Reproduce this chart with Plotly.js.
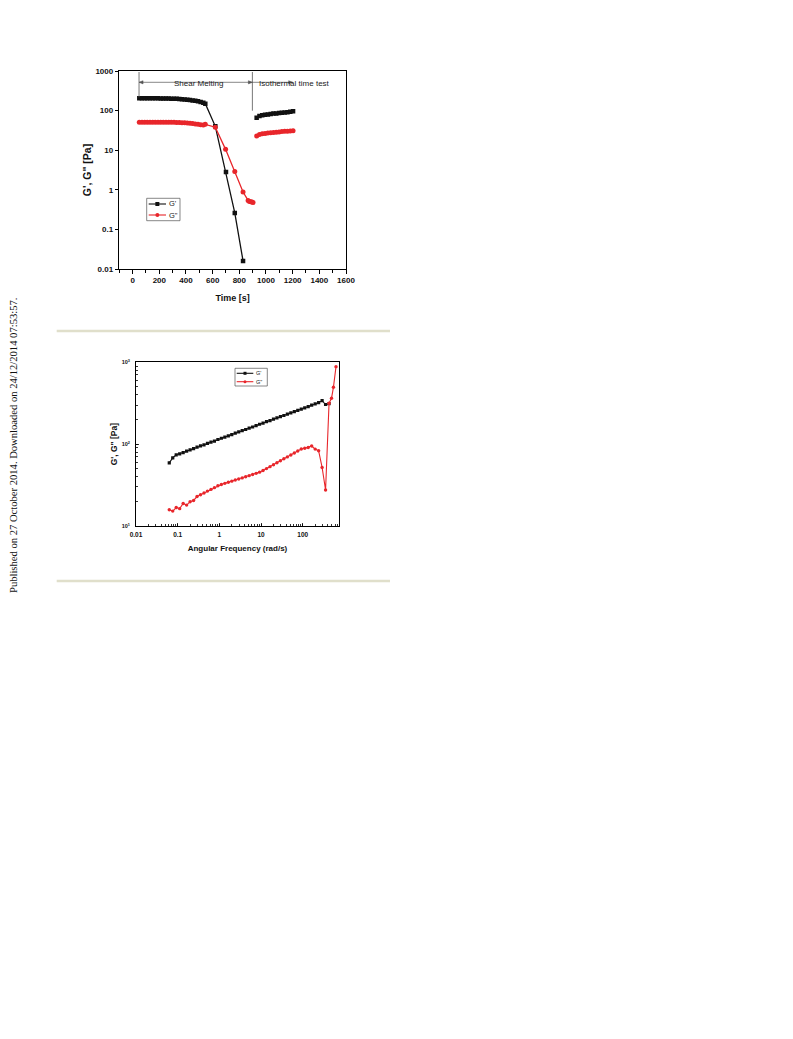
<!DOCTYPE html>
<html>
<head>
<meta charset="utf-8">
<script src="https://cdn.plot.ly/plotly-3.0.1.min.js"></script>
<style>
  html, body { margin: 0; padding: 0; background: #ffffff; }
  #chart { width: 793px; height: 1039px; }
</style>
</head>
<body>
<div id="chart"></div>
<script>
// ---------------- DATA ----------------
// Top chart: shear melting + isothermal time test
const tShearStorage = [50,70,90,110,130,150,170,190,210,230,250,270,290,310,330,350,370,390,410,430,450,470,490,510,530,545,620,700,766,828];
const gStorageShear = [205,205,205,205,205,204,204,204,203,203,202,201,200,199,198,196,194,191,188,185,181,177,172,166,158,150,40,2.8,0.26,0.016];
const tShearLoss = [50,70,90,110,130,150,170,190,210,230,250,270,290,310,330,350,370,390,410,430,450,470,490,510,530,545,620,697,766,828,866,876,886,895,903];
const gLossShear = [51,51,51,51,51,51,51,51,51,51,51,51,51,50.5,50,50,49.5,49,48.5,48,47,46,45,44,43,45,38,10.5,2.9,0.88,0.54,0.51,0.5,0.49,0.48];
const tIso = [930,951,972,993,1014,1035,1056,1077,1098,1119,1140,1161,1182,1203];
const gStorageIso = [66,73,76,78,80,82,84,85,87,88,90,91,93,96];
const gLossIso = [23,25,26,26.5,27,27.5,28,28.5,29,29.5,30,30,30.5,31];
const timeTicks = [0,200,400,600,800,1000,1200,1400,1600];
const modTicksTop = [0.01,0.1,1,10,100,1000];
const modTickTextTop = ['0.01','0.1','1','10','100','1000'];

// Bottom chart: frequency sweep
const omegaStorage = [0.0628,0.0761,0.0922,0.1117,0.1353,0.1639,0.1986,0.2406,0.2915,0.3531,0.4278,0.5183,0.628,0.761,0.922,1.117,1.353,1.639,1.986,2.406,2.915,3.531,4.278,5.183,6.28,7.61,9.22,11.17,13.53,16.39,19.86,24.06,29.15,35.31,42.78,51.83,62.8,76.1,92.2,111.7,135.3,163.9,198.6,240.6,291.5,353.1,427.8];
const gStorageFreq = [59,68,74,76,79,82,85,88,92,95,98,102,106,109,114,118,122,126,131,136,141,146,151,157,162,168,175,181,188,194,202,209,217,224,233,241,250,259,268,278,288,299,310,321,340,305,312];
const omegaLoss = [0.0628,0.0761,0.0922,0.1117,0.1353,0.1639,0.1986,0.2406,0.2915,0.3531,0.4278,0.5183,0.628,0.761,0.922,1.117,1.353,1.639,1.986,2.406,2.915,3.531,4.278,5.183,6.28,7.61,9.22,11.17,13.53,16.39,19.86,24.06,29.15,35.31,42.78,51.83,62.8,76.1,92.2,111.7,135.3,163.9,198.6,240.6,291.5,353.1,427.8,490,545,628];
const gLossFreq = [15.8,15.2,16.8,16.3,18.8,18.0,19.8,20.5,22.9,24.1,25.3,26.7,28.0,29.4,31.0,32.2,33.2,34.2,35.3,36.4,37.5,38.7,39.9,41.2,42.6,44.0,45.5,47.6,50.3,53.1,56.1,59.3,62.7,66.2,69.9,73.8,78.0,82.4,87.1,89,91,95,87,83,52,27.5,316,364,495,885];
const freqTicks = [0.01,0.1,1,10,100];
const freqTickText = ['0.01','0.1','1','10','100'];
const modTicksBottom = [10,100,1000];
const modTickTextBottom = ['10<sup>1</sup>','10<sup>2</sup>','10<sup>3</sup>'];

const seriesNames = ["G'", 'G"'];
const phaseLabels = ['Shear Melting', 'Isothermal time test'];
const phaseBounds = [48, 898, 1200];
const sideNote = 'Published on 27 October 2014. Downloaded on 24/12/2014 07:53:57.';

// ---------------- STYLE ----------------
const W = 793, H = 1039;
const BLACK = '#111111', RED = '#e8262b';
const SANS = 'Liberation Sans, Arial, sans-serif';
const px = v => v / W;
const py = v => 1 - v / H;

// top x-axis geometry (pixels) used only for decoration placement
const TOP_X0 = 119.3, TOP_X1 = 346, TOP_R0 = -100, TOP_R1 = 1600;
const tToPx = t => TOP_X0 + (t - TOP_R0) * (TOP_X1 - TOP_X0) / (TOP_R1 - TOP_R0);

function trace(x, y, xa, ya, color, symbol, size, lw) {
  return {
    x: x, y: y, xaxis: xa, yaxis: ya, type: 'scatter', mode: 'lines+markers',
    line: {color: color, width: lw},
    marker: {color: color, symbol: symbol, size: size, line: {width: 0}},
    showlegend: false, hoverinfo: 'skip'
  };
}

const data = [
  trace(tShearStorage, gStorageShear, 'x', 'y', BLACK, 'square', 4.5, 1.3),
  trace(tIso, gStorageIso, 'x', 'y', BLACK, 'square', 4.5, 1.3),
  trace(tShearLoss, gLossShear, 'x', 'y', RED, 'circle', 5, 1.3),
  trace(tIso, gLossIso, 'x', 'y', RED, 'circle', 5, 1.3),
  trace(omegaStorage, gStorageFreq, 'x2', 'y2', BLACK, 'square', 3.2, 1.1),
  trace(omegaLoss, gLossFreq, 'x2', 'y2', RED, 'circle', 3.4, 1.1)
];

const axisBase = {
  showline: true, linecolor: '#000', linewidth: 1, mirror: true,
  showgrid: false, zeroline: false, fixedrange: true
};

// legend built from shapes + text (decoration)
function legendBox(x0, y0, x1, y1, rows, lineX0, lineX1, textX, mk, fs) {
  const shp = [{type: 'rect', xref: 'paper', yref: 'paper', x0: px(x0), x1: px(x1), y0: py(y1), y1: py(y0),
    line: {color: '#555', width: 0.7}, fillcolor: 'rgba(0,0,0,0)'}];
  const ann = [];
  rows.forEach((r) => {
    shp.push({type: 'line', xref: 'paper', yref: 'paper', x0: px(lineX0), x1: px(lineX1), y0: py(r.y), y1: py(r.y),
      line: {color: r.color, width: 1.1}});
    const cx = (lineX0 + lineX1) / 2;
    shp.push({type: r.symbol === 'square' ? 'rect' : 'circle', xref: 'paper', yref: 'paper',
      x0: px(cx - mk / 2), x1: px(cx + mk / 2), y0: py(r.y + mk / 2), y1: py(r.y - mk / 2),
      fillcolor: r.color, line: {width: 0}});
    ann.push({xref: 'paper', yref: 'paper', x: px(textX), y: py(r.y), xanchor: 'left', yanchor: 'middle',
      text: r.name, showarrow: false, font: {family: SANS, size: fs, color: '#222'}});
  });
  return {shp, ann};
}

const legTop = legendBox(146.7, 198.3, 180, 220.7,
  [{y: 204, color: BLACK, symbol: 'square', name: seriesNames[0]},
   {y: 215, color: RED, symbol: 'circle', name: seriesNames[1]}],
  148.7, 166, 166.5, 4, 7.5);
const legBot = legendBox(235, 368.3, 267.3, 386,
  [{y: 373.3, color: BLACK, symbol: 'square', name: seriesNames[0]},
   {y: 381.7, color: RED, symbol: 'circle', name: seriesNames[1]}],
  236.7, 253.3, 254, 3, 5.5);

// phase markers: vertical lines, arrow shafts and arrowheads (decoration)
const ARROW_Y = 82.3, HEAD_L = 4, HEAD_H = 1.6;
function head(xTip, dir) {
  const xb = xTip - dir * HEAD_L;
  return {type: 'path', xref: 'paper', yref: 'paper',
    path: 'M ' + px(xTip) + ' ' + py(ARROW_Y) + ' L ' + px(xb) + ' ' + py(ARROW_Y - HEAD_H) +
          ' L ' + px(xb) + ' ' + py(ARROW_Y + HEAD_H) + ' Z',
    fillcolor: '#555', line: {color: '#555', width: 0.5}};
}
const b0 = tToPx(phaseBounds[0]), b1 = tToPx(phaseBounds[1]), b2 = tToPx(phaseBounds[2]);
const phaseShapes = [
  {type: 'line', xref: 'x', yref: 'paper', x0: phaseBounds[0], x1: phaseBounds[0], y0: py(97.3), y1: py(72),
    line: {color: '#555', width: 0.8}},
  {type: 'line', xref: 'x', yref: 'paper', x0: phaseBounds[1], x1: phaseBounds[1], y0: py(110.7), y1: py(72),
    line: {color: '#555', width: 0.8}},
  {type: 'line', xref: 'x', yref: 'paper', x0: phaseBounds[0], x1: phaseBounds[1], y0: py(ARROW_Y), y1: py(ARROW_Y),
    line: {color: '#555', width: 0.7}},
  {type: 'line', xref: 'x', yref: 'paper', x0: phaseBounds[1], x1: phaseBounds[2], y0: py(ARROW_Y), y1: py(ARROW_Y),
    line: {color: '#555', width: 0.7}},
  head(b0, -1), head(b1, 1), head(b2, 1)
];

const layout = {
  width: W, height: H,
  margin: {l: 0, r: 0, t: 0, b: 0},
  paper_bgcolor: '#ffffff', plot_bgcolor: '#ffffff',
  showlegend: false,
  xaxis: Object.assign({}, axisBase, {
    domain: [px(TOP_X0), px(TOP_X1)], anchor: 'y', range: [TOP_R0, TOP_R1],
    tickmode: 'array', tickvals: timeTicks,
    ticks: 'outside', ticklen: 3.5, tickwidth: 1, tickcolor: '#000',
    minor: {ticks: 'outside', ticklen: 2.5, dtick: 100, tick0: 0, tickcolor: '#000'},
    tickfont: {family: SANS, size: 8, color: '#111', weight: 'bold'},
    title: {text: 'Time [s]', standoff: 10, font: {family: SANS, size: 9, color: '#111', weight: 'bold'}}
  }),
  yaxis: Object.assign({}, axisBase, {
    domain: [py(269), py(71)], anchor: 'x', type: 'log', range: [-2, 3],
    tickmode: 'array', tickvals: modTicksTop, ticktext: modTickTextTop,
    ticks: 'outside', ticklen: 3.5, tickwidth: 1, tickcolor: '#000',
    tickfont: {family: SANS, size: 8, color: '#111', weight: 'bold'},
    title: {text: 'G\', G" [Pa]', standoff: 1, font: {family: SANS, size: 10.5, color: '#111', weight: 'bold'}}
  }),
  xaxis2: Object.assign({}, axisBase, {
    domain: [px(136), px(339)], anchor: 'y2', type: 'log', range: [-2, 2.87],
    tickmode: 'array', tickvals: freqTicks, ticktext: freqTickText,
    ticks: 'inside', ticklen: 3, tickwidth: 0.8, tickcolor: '#000',
    minor: {ticks: 'inside', ticklen: 1.8, dtick: 'D1', tickcolor: '#000'},
    ticklabelstandoff: 2,
    tickfont: {family: SANS, size: 6.5, color: '#111', weight: 'bold'},
    title: {text: 'Angular Frequency (rad/s)', standoff: 8, font: {family: SANS, size: 8, color: '#111', weight: 'bold'}}
  }),
  yaxis2: Object.assign({}, axisBase, {
    domain: [py(526), py(362.3)], anchor: 'x2', type: 'log', range: [1, 3],
    tickmode: 'array', tickvals: modTicksBottom, ticktext: modTickTextBottom,
    ticks: 'inside', ticklen: 3, tickwidth: 0.8, tickcolor: '#000',
    minor: {ticks: 'inside', ticklen: 1.8, dtick: 'D1', tickcolor: '#000'},
    ticklabelstandoff: 4,
    tickfont: {family: SANS, size: 5.5, color: '#111', weight: 'bold'},
    title: {text: 'G\', G" [Pa]', standoff: 2, font: {family: SANS, size: 8.5, color: '#111', weight: 'bold'}}
  }),
  shapes: phaseShapes.concat([
    {type: 'line', xref: 'paper', yref: 'paper', x0: px(56.7), x1: px(390), y0: py(331), y1: py(331),
      line: {color: '#e0dfcb', width: 2.5}},
    {type: 'line', xref: 'paper', yref: 'paper', x0: px(56.7), x1: px(390), y0: py(581), y1: py(581),
      line: {color: '#e0dfcb', width: 2.5}}
  ], legTop.shp, legBot.shp),
  annotations: [
    {xref: 'x', yref: 'paper', x: 492, y: py(77.3), text: phaseLabels[0], showarrow: false,
      font: {family: SANS, size: 8, color: '#222'}},
    {xref: 'x', yref: 'paper', x: 1214, y: py(77.3), text: phaseLabels[1], showarrow: false,
      font: {family: SANS, size: 8, color: '#222'}},
    {xref: 'paper', yref: 'paper', x: px(13), y: py(446), xanchor: 'center', yanchor: 'middle',
      text: sideNote, showarrow: false, textangle: -90,
      font: {family: 'Liberation Serif, Times New Roman, serif', size: 10.6, color: '#111'}}
  ].concat(legTop.ann, legBot.ann)
};

Plotly.newPlot('chart', data, layout, {staticPlot: true, displayModeBar: false});
</script>
</body>
</html>
